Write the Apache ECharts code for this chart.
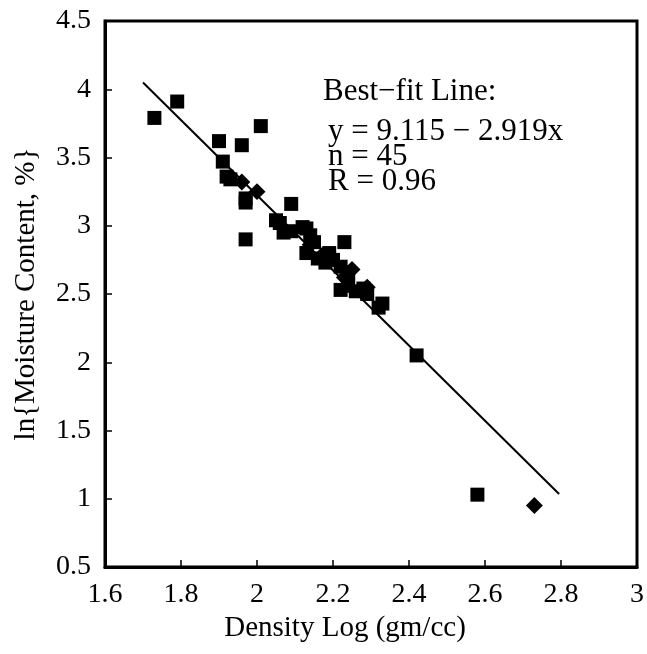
<!DOCTYPE html>
<html>
<head>
<meta charset="utf-8">
<title>Density Log vs Moisture Content</title>
<script src="https://cdn.jsdelivr.net/npm/echarts@6/dist/echarts.min.js"></script>
<style>
  html, body { margin: 0; padding: 0; background: #fff; }
  #main { width: 647px; height: 654px; }
</style>
</head>
<body>
<div id="main"></div>
<script type="text/javascript">
// square markers (density log, ln moisture)
var squareX = [1.73, 1.79, 1.90, 1.96, 2.01, 1.91, 1.92, 1.93, 1.97, 1.97, 1.97, 2.09,
               2.05, 2.06, 2.07, 2.09, 2.12, 2.13, 2.14, 2.13, 2.15, 2.16, 2.18, 2.19,
               2.20, 2.23, 2.22, 2.24, 2.22, 2.24, 2.26, 2.28, 2.29, 2.32, 2.33, 2.42,
               2.58];
var squareY = [3.79, 3.91, 3.62, 3.59, 3.73, 3.47, 3.36, 3.34, 3.17, 3.20, 2.90, 3.16,
               3.04, 3.02, 2.95, 2.96, 2.99, 2.98, 2.93, 2.80, 2.88, 2.76, 2.73, 2.80,
               2.75, 2.88, 2.70, 2.66, 2.53, 2.56, 2.52, 2.54, 2.50, 2.40, 2.43, 2.05,
               1.03];
// diamond markers
var diamondX = [1.96, 2.00, 2.14, 2.25, 2.29, 2.23, 2.73, 2.17];
var diamondY = [3.32, 3.25, 2.86, 2.68, 2.55, 2.62, 0.95, 2.78];
// best-fit line ends as drawn
var fitX = [1.70, 2.795];
var fitY = [4.05, 1.035];

var noteLines = ['y = 9.115 \u2212 2.919x', 'n = 45', 'R = 0.96'];

function pairs(xs, ys) {
    var out = [];
    for (var i = 0; i < xs.length; i++) out.push([xs[i], ys[i]]);
    return out;
}

var serif = 'Liberation Serif';
var myChart = echarts.init(document.getElementById('main'));

var option = {
    backgroundColor: '#fff',
    animation: false,
    grid: {
        left: 105, right: 9, top: 21, bottom: 87,
        show: true,
        borderColor: '#000',
        borderWidth: 3
    },
    xAxis: {
        type: 'value',
        min: 1.6, max: 3, interval: 0.2,
        name: 'Density Log (gm/cc)',
        nameLocation: 'middle',
        nameGap: 46,
        nameTextStyle: { fontFamily: serif, fontSize: 29, color: '#000', padding: [0, 52, 0, 0] },
        axisLine: { lineStyle: { color: '#000', width: 3 } },
        axisTick: { inside: true, length: 7, lineStyle: { color: '#000', width: 1.5 } },
        axisLabel: {
            fontFamily: serif, fontSize: 28, color: '#000', margin: 14,
            formatter: function (v) { return +v.toFixed(1) + ''; }
        },
        splitLine: { show: false }
    },
    yAxis: {
        type: 'value',
        min: 0.5, max: 4.5, interval: 0.5,
        name: 'ln{Moisture Content, %}',
        nameLocation: 'middle',
        nameGap: 64,
        nameTextStyle: { fontFamily: serif, fontSize: 29, color: '#000' },
        axisLine: { lineStyle: { color: '#000', width: 3 } },
        axisTick: { inside: true, length: 7, lineStyle: { color: '#000', width: 1.5 } },
        axisLabel: {
            fontFamily: serif, fontSize: 28, color: '#000', margin: 14,
            formatter: function (v) { return +v.toFixed(1) + ''; }
        },
        splitLine: { show: false }
    },
    graphic: [
        {
            type: 'text', left: 323, top: 76,
            style: { text: 'Best\u2212fit Line:', font: '31px "Liberation Serif"', fill: '#000' }
        },
        {
            type: 'text', left: 328, top: 116,
            style: {
                text: noteLines.join('\n'), font: '31px "Liberation Serif"',
                fill: '#000', lineHeight: 25
            }
        }
    ],
    series: [
        {
            name: 'fit',
            type: 'line',
            data: pairs(fitX, fitY),
            showSymbol: false,
            lineStyle: { color: '#000', width: 2 },
            z: 1
        },
        {
            name: 'square',
            type: 'scatter',
            data: pairs(squareX, squareY),
            symbol: 'rect',
            symbolSize: 14,
            itemStyle: { color: '#000', opacity: 1 },
            z: 2
        },
        {
            name: 'diamond',
            type: 'scatter',
            data: pairs(diamondX, diamondY),
            symbol: 'rect',
            symbolSize: 12,
            symbolRotate: 45,
            itemStyle: { color: '#000', opacity: 1 },
            z: 2
        }
    ]
};

myChart.setOption(option);
</script>
</body>
</html>
